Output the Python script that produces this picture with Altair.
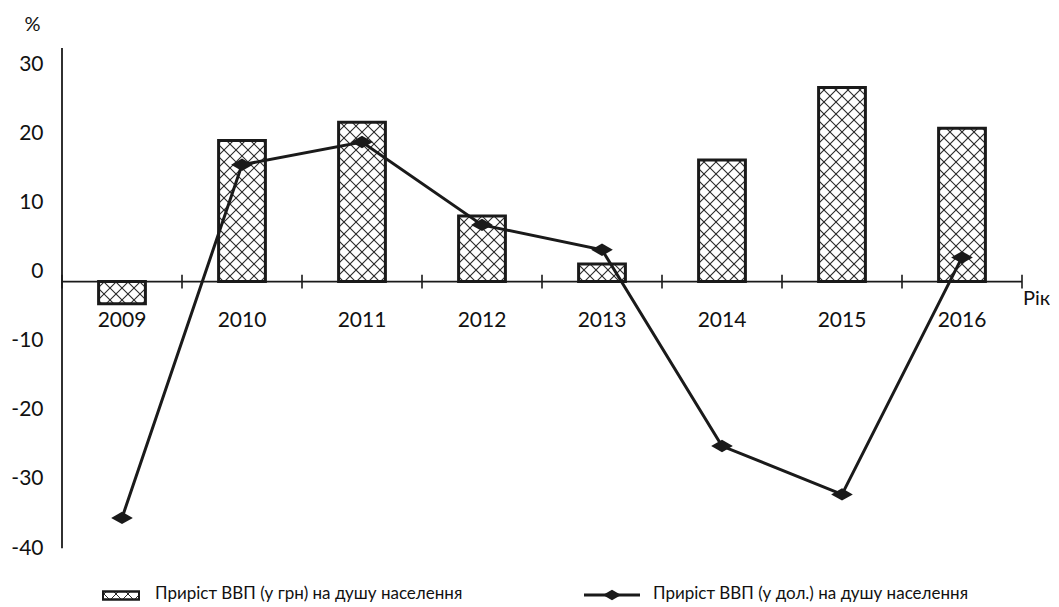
import altair as alt
import pandas as pd
import numpy as np

# ---------------- data ----------------
years = [2009, 2010, 2011, 2012, 2013, 2014, 2015, 2016]
gdp_uah = [-3.2, 20.4, 23.05, 9.5, 2.55, 17.6, 28.1, 22.2]      # bars
gdp_usd = [-34.2, 16.9, 20.2, 8.2, 4.6, -23.8, -30.8, 3.5]      # line
y_ticks = [-40, -30, -20, -10, 0, 10, 20, 30]
legend_labels = ["Приріст ВВП (у грн) на душу населення",
                 "Приріст ВВП (у дол.) на душу населення"]
x_axis_title = "Рік"
y_axis_title = "%"

# ---------------- layout ----------------
W, H = 960, 510
X_DOM = [years[0] - 0.5, years[-1] + 0.5]
Y_DOM = [-40, 33.8]
Y_AXIS_SPAN = [-38.6, 33.8]
BAR_HALF = 0.195
HATCH = 12.0
FONT = "Lato"
LEGEND_FONT = "Lato"

kx = W / (X_DOM[1] - X_DOM[0])
ky = H / (Y_DOM[1] - Y_DOM[0])


def to_px(x, y):
    return (x - X_DOM[0]) * kx, (Y_DOM[1] - y) * ky


def to_data(px, py):
    return X_DOM[0] + px / kx, Y_DOM[1] - py / ky


def hatch_segments(X0, X1, Y0, Y1, d):
    segs = []
    cmin, cmax = Y0 - X1, Y1 - X0
    c = np.floor(cmin / d) * d
    while c <= cmax:
        lo, hi = max(X0, Y0 - c), min(X1, Y1 - c)
        if hi - lo > 0.5:
            segs.append((lo, lo + c, hi, hi + c))
        c += d
    cmin, cmax = X0 + Y0, X1 + Y1
    c = np.floor(cmin / d) * d
    while c <= cmax:
        lo, hi = max(X0, c - Y1), min(X1, c - Y0)
        if hi - lo > 0.5:
            segs.append((lo, c - lo, hi, c - hi))
        c += d
    return segs


xs = alt.Scale(domain=X_DOM, nice=False, zero=False)
ys = alt.Scale(domain=Y_DOM, nice=False, zero=False)
YAX = alt.Axis(
    values=y_ticks, domain=False, ticks=False, tickSize=0, grid=False,
    labelExpr="'' + datum.value",
    labelOffset=-10, labelPadding=19, labelFontSize=21, labelFont=FONT,
    labelColor="#111", labelFontWeight="normal",
    title=y_axis_title, titleAngle=0, titleX=-30, titleY=-24,
    titleFontSize=20, titleFont=FONT, titleFontWeight="normal",
    titleColor="#111", titleAlign="center", titleBaseline="middle",
)

df = pd.DataFrame({"year": years, "uah": gdp_uah, "usd": gdp_usd})

# hatch segments inside bars (derived from bar values)
rows = []
for yr, v in zip(years, gdp_uah):
    ax, ay = to_px(yr - BAR_HALF, v)
    bx, by = to_px(yr + BAR_HALF, 0)
    for (p0x, p0y, p1x, p1y) in hatch_segments(ax, bx, min(ay, by), max(ay, by), HATCH):
        d0 = to_data(p0x, p0y)
        d1 = to_data(p1x, p1y)
        rows.append({"hx": d0[0], "hy": d0[1], "hx2": d1[0], "hy2": d1[1]})
hatch_df = pd.DataFrame(rows)

base = alt.Chart(df)

bar_fill = base.transform_calculate(
    x0=f"datum.year - {BAR_HALF}", x1=f"datum.year + {BAR_HALF}"
).mark_rect(fill="white", strokeWidth=0).encode(
    x=alt.X("x0:Q", scale=xs, axis=None),
    x2="x1:Q",
    y=alt.Y("uah:Q", scale=ys, axis=YAX),
    y2=alt.Y2(datum=0),
)

hatch = alt.Chart(hatch_df).mark_rule(color="#2a2a2a", strokeWidth=1.1).encode(
    x=alt.X("hx:Q", scale=xs, axis=None),
    x2="hx2:Q",
    y=alt.Y("hy:Q", scale=ys, axis=YAX),
    y2="hy2:Q",
)

bar_outline = base.transform_calculate(
    x0=f"datum.year - {BAR_HALF}", x1=f"datum.year + {BAR_HALF}"
).mark_rect(fillOpacity=0, stroke="#1a1a1a", strokeWidth=3).encode(
    x=alt.X("x0:Q", scale=xs, axis=None),
    x2="x1:Q",
    y=alt.Y("uah:Q", scale=ys, axis=YAX),
    y2=alt.Y2(datum=0),
)

# x axis line at zero, with ticks at category boundaries
axis_df = pd.DataFrame({"x0": [X_DOM[0]], "x1": [X_DOM[1]], "y": [0]})
x_axis_line = alt.Chart(axis_df).mark_rule(color="#1a1a1a", strokeWidth=1.8).encode(
    x=alt.X("x0:Q", scale=xs, axis=None), x2="x1:Q",
    y=alt.Y("y:Q", scale=ys, axis=YAX),
)
bounds_df = pd.DataFrame({"b": [y - 0.5 for y in years] + [years[-1] + 0.5]})
x_ticks = alt.Chart(bounds_df).mark_rule(color="#1a1a1a", strokeWidth=1.6).encode(
    x=alt.X("b:Q", scale=xs, axis=None),
    y=alt.Y(datum=1.0, scale=ys, axis=YAX),
    y2=alt.Y2(datum=-1.0),
)
x_labels = base.mark_text(fontSize=21, font=FONT, color="#111", baseline="middle",
                          align="center", dy=39.5).encode(
    x=alt.X("year:Q", scale=xs, axis=None),
    y=alt.Y(datum=0, scale=ys, axis=YAX),
    text=alt.Text("year:N"),
)
x_title = alt.Chart(pd.DataFrame({"t": [x_axis_title]})).mark_text(
    fontSize=20, font=FONT, color="#111", align="left", baseline="middle", dx=1, dy=17.5
).encode(
    x=alt.X(datum=X_DOM[1], scale=xs, axis=None),
    y=alt.Y(datum=0, scale=ys, axis=YAX),
    text="t:N",
)

yspan_df = pd.DataFrame({"x": [X_DOM[0]], "y0": [Y_AXIS_SPAN[0]], "y1": [Y_AXIS_SPAN[1]]})
y_axis_line = alt.Chart(yspan_df).mark_rule(color="#1a1a1a", strokeWidth=1.8).encode(
    x=alt.X("x:Q", scale=xs, axis=None),
    y=alt.Y("y0:Q", scale=ys, axis=YAX), y2="y1:Q",
)

line = base.mark_line(color="#1a1a1a", strokeWidth=3).encode(
    x=alt.X("year:Q", scale=xs, axis=None),
    y=alt.Y("usd:Q", scale=ys, axis=YAX),
)
DIAMOND = "M-1,0L0,-0.57L1,0L0,0.57Z"
points = base.mark_point(shape=DIAMOND, size=470, filled=True, color="#1a1a1a",
                         opacity=1).encode(
    x=alt.X("year:Q", scale=xs, axis=None),
    y=alt.Y("usd:Q", scale=ys, axis=YAX),
)

# ---------------- legend (pixel positions) ----------------
LB = [41, 77, 543.5, 551.5]          # hatched box: x0, x1, y0, y1
LL = [522, 578, 547]                 # line symbol: x0, x1, y
LD = [550, 547]                      # diamond
LT = [(93, 551), (591, 551)]         # text positions (baseline)

one = pd.DataFrame({"a": [0]})
leg_box_fill = alt.Chart(one).mark_rect(fill="white", stroke="#1a1a1a", strokeWidth=2).encode(
    x=alt.value(LB[0]), x2=alt.value(LB[1]), y=alt.value(LB[2]), y2=alt.value(LB[3]))
lh = pd.DataFrame([{"hx": a, "hy": b, "hx2": c, "hy2": d}
                   for (a, b, c, d) in hatch_segments(LB[0], LB[1], LB[2], LB[3], HATCH)])
leg_hatch = alt.Chart(lh).mark_rule(color="#2a2a2a", strokeWidth=1).encode(
    x=alt.X("hx:Q", scale=None), x2="hx2:Q",
    y=alt.Y("hy:Q", scale=None), y2="hy2:Q")
leg_box_outline = alt.Chart(one).mark_rect(fillOpacity=0, stroke="#1a1a1a", strokeWidth=2).encode(
    x=alt.value(LB[0]), x2=alt.value(LB[1]), y=alt.value(LB[2]), y2=alt.value(LB[3]))
leg_line = alt.Chart(one).mark_rule(color="#1a1a1a", strokeWidth=3).encode(
    x=alt.value(LL[0]), x2=alt.value(LL[1]), y=alt.value(LL[2]))
leg_pt = alt.Chart(one).mark_point(shape=DIAMOND, size=330, filled=True, color="#1a1a1a",
                                   opacity=1).encode(x=alt.value(LD[0]), y=alt.value(LD[1]))
leg_df = pd.DataFrame({"label": legend_labels,
                       "px": [p[0] for p in LT], "py": [p[1] for p in LT]})
leg_text = alt.Chart(leg_df).mark_text(fontSize=17, font=LEGEND_FONT, color="#111",
                                       align="left", baseline="alphabetic").encode(
    x=alt.X("px:Q", scale=None), y=alt.Y("py:Q", scale=None), text="label:N")

chart = alt.layer(
    bar_fill, hatch, bar_outline, x_axis_line, x_ticks, y_axis_line,
    line, points, x_labels, x_title,
    leg_box_fill, leg_hatch, leg_box_outline, leg_line, leg_pt, leg_text,
).properties(
    width=W, height=H,
    padding={"left": 54, "top": 40, "right": 28, "bottom": 52},
    autosize=alt.AutoSizeParams(type="none"),
    background="white",
).configure_view(stroke=None)

chart.save("out.html", embed_options={"renderer": "svg", "actions": False})
